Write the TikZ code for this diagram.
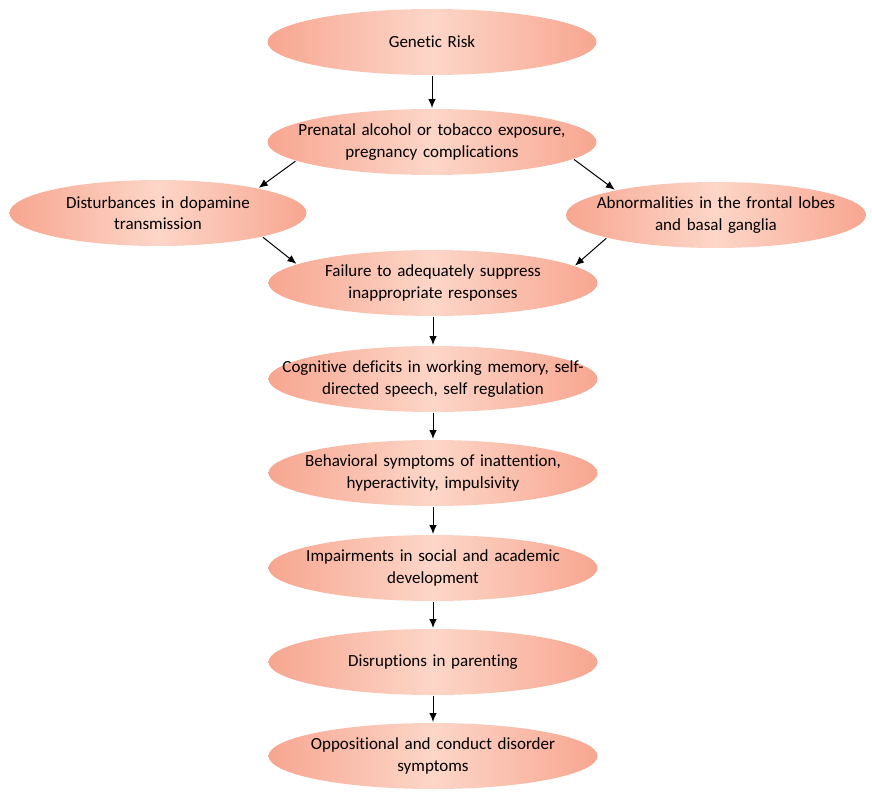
\documentclass[tikz,border=0pt]{standalone}
\usepackage{fontspec}
\setmainfont{Carlito}[Ligatures=NoCommon]
\usepackage{xcolor}
\usetikzlibrary{arrows.meta, calc, positioning, shapes.geometric}

\definecolor{salmon}{RGB}{247,166,144}
\definecolor{peach}{RGB}{253,214,200}

\tikzset{
    bubble/.style={ellipse, left color=salmon, right color=salmon, middle color=peach,
        minimum width=329pt, minimum height=66pt, text width=330pt, align=center,
        inner xsep=-50pt, inner ysep=0pt, outer sep=1pt,
        font=\fontsize{17}{21.5}\selectfont},
    side/.style={bubble, text width=250pt, inner xsep=-30pt},
    link/.style={-{Latex[length=9pt, width=7.5pt]}, line width=1pt}
}

\begin{document}
\begin{tikzpicture}[x=1pt, y=-1pt]
                        \useasboundingbox (0, 0) rectangle (872, 800);

                        \node[bubble] (gen) at (432, 42) {Genetic Risk};
                        \node[bubble] (pre) at (432, 142) {Prenatal alcohol or tobacco exposure,\\ pregnancy complications};
                        \node[side, minimum width=297pt] (dop) at (158, 213) {Disturbances in dopamine\\ transmission};
                        \node[side, minimum width=300pt] (front) at (716, 215) {Abnormalities in the frontal lobes\\ and basal ganglia};
                        \node[bubble] (fail) at (433, 283) {Failure to adequately suppress\\ inappropriate responses};
                        \node[bubble] (cog) at (433, 379) {Cognitive deficits in working memory, self-\\ directed speech, self regulation};
                        \node[bubble] (beh) at (433, 473) {Behavioral symptoms of inattention,\\ hyperactivity, impulsivity};
                        \node[bubble] (imp) at (433, 568) {Impairments in social and academic\\ development};
                        \node[bubble] (par) at (433, 662) {Disruptions in parenting};
                        \node[bubble] (opp) at (433, 756) {Oppositional and conduct disorder\\ symptoms};

                        \draw
                        (gen) edge[link] (pre)
                        (pre.188) edge[link] (dop.14)
                        (pre.353) edge[link] (front.166)
                        (dop.347) edge[link] (fail.172)
                        (front.192) edge[link] (fail.7)
                        (fail) edge[link] (cog)
                        (cog) edge[link] (beh)
                        (beh) edge[link] (imp)
                        (imp) edge[link] (par)
                        (par) edge[link] (opp);
                    \end{tikzpicture}
\end{document}
